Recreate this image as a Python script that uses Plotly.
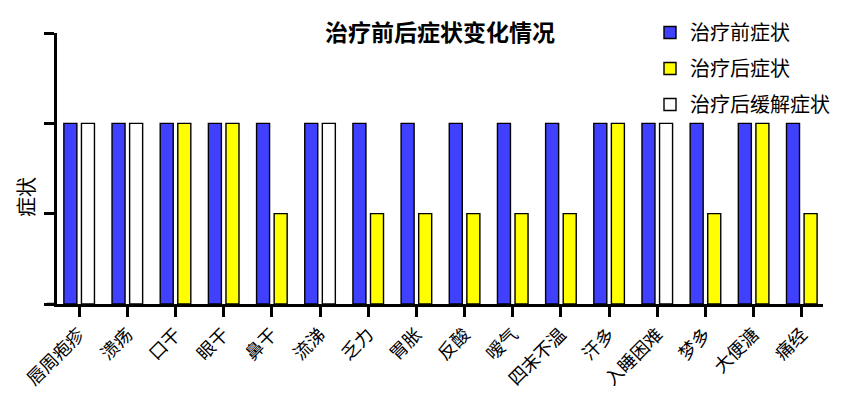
import plotly.graph_objects as go

categories = ["唇周疱疹", "溃疡", "口干", "眼干", "鼻干", "流涕", "乏力", "胃胀",
              "反酸", "嗳气", "四末不温", "汗多", "入睡困难", "梦多", "大便溏", "痛经"]
before = [2, 2, 2, 2, 2, 2, 2, 2, 2, 2, 2, 2, 2, 2, 2, 2]
after = [None, None, 2, 2, 1, None, 1, 1, 1, 1, 1, 2, None, 1, 2, 1]
relieved = [2, 2, None, None, None, 2, None, None, None, None, None, None, 2, None, None, None]
names = ["治疗前症状", "治疗后症状", "治疗后缓解症状"]
yticks = [0, 1, 2, 3]

font = "Noto Sans CJK SC"
# page body has an 8px margin, so the figure is drawn 8px in from the window corner
off = 8
W, H = 856 - 2 * off, 403 - 2 * off
ml, mt = 57 - off, 33 - off
pw, ph = 766, 271
mr, mb = W - ml - pw, H - mt - ph

fig = go.Figure()
fig.add_trace(go.Bar(x=categories, y=before, name=names[0], offsetgroup="a",
                     marker=dict(color="#4040FF", line=dict(color="black", width=1.4)),
                     legendgroup="a"))
fig.add_trace(go.Bar(x=categories, y=after, name=names[1], offsetgroup="b",
                     marker=dict(color="#FFFF00", line=dict(color="black", width=1.4)),
                     legendgroup="b"))
fig.add_trace(go.Bar(x=categories, y=relieved, name=names[2], offsetgroup="b",
                     marker=dict(color="white", line=dict(color="black", width=1.4)),
                     legendgroup="c"))

fig.update_layout(
    width=W, height=H,
    margin=dict(l=ml, r=mr, t=mt, b=mb, autoexpand=False),
    plot_bgcolor="white", paper_bgcolor="white",
    barmode="group", bargap=0.27, bargroupgap=0.26,
    font=dict(family=font, size=15, color="black"),
    title=dict(text="<b>治疗前后症状变化情况</b>", x=(440 - off) / W, xanchor="center",
               y=1 - (33 - off) / H, yanchor="middle", font=dict(size=23)),
    legend=dict(x=(650 - off - ml) / pw, xanchor="left", y=1 + 20 / ph, yanchor="top",
                font=dict(size=20), tracegroupgap=7, bgcolor="rgba(0,0,0,0)"),
    xaxis=dict(range=[-0.46, 15.44], showline=True, linecolor="black", linewidth=2.5,
               ticks="outside", ticklen=10, tickwidth=2.5, tickcolor="black",
               tickangle=-45, tickfont=dict(size=18), showgrid=False),
    yaxis=dict(range=[0, 3], tickvals=yticks, showticklabels=False, showline=True,
               linecolor="black", linewidth=2.5, ticks="outside", ticklen=10,
               tickwidth=2.5, tickcolor="black", showgrid=False, zeroline=False),
)

# x-axis baseline runs out under the y-axis tick marks
fig.add_shape(type="line", xref="paper", yref="y", x0=-10 / pw, x1=0, y0=0, y1=0,
              line=dict(color="black", width=2.5))

fig.add_annotation(text="症状", textangle=-90, xref="paper", yref="paper",
                   x=(25 - 57) / pw, y=(304 - 197) / ph, xanchor="center",
                   yanchor="middle", showarrow=False, font=dict(size=20))

fig.write_html("out.html")
